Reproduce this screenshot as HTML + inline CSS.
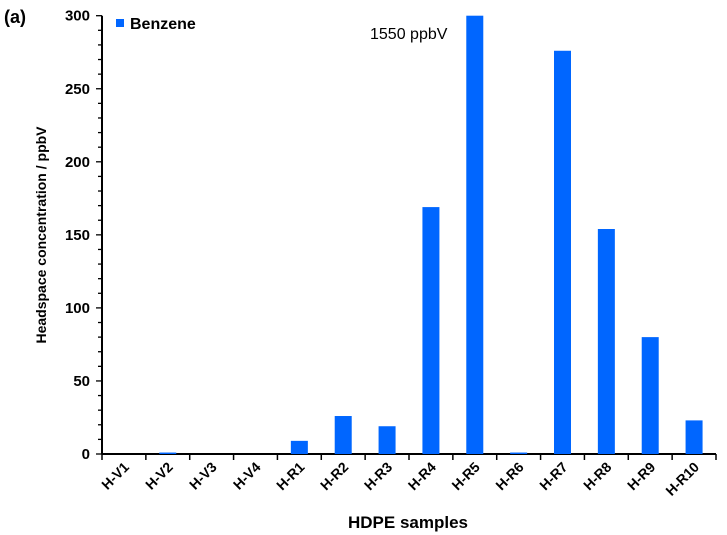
<!DOCTYPE html>
<html><head><meta charset="utf-8"><style>
html,body{margin:0;padding:0;background:#fff;}
svg{display:block;font-family:"Liberation Sans",Arial,sans-serif;}
</style></head><body>
<svg id="chart" width="727" height="535">
<text x="4" y="23" font-size="18" font-weight="bold">(a)</text>
<g id="yaxis"></g>
<g id="xaxis"></g>
<g id="bars"></g>
<text transform="translate(46,235) rotate(-90)" text-anchor="middle" font-size="14" font-weight="bold">Headspace concentration / ppbV</text>
<text x="408" y="528" text-anchor="middle" font-size="17" font-weight="bold">HDPE samples</text>
<g>
<rect x="116" y="19" width="8" height="8" fill="#0066ff"></rect>
<text x="130" y="29" font-size="16" font-weight="bold">Benzene</text>
</g>
<text x="370" y="39" font-size="16">1550 ppbV</text>
</svg>
<script>
const categories = ["H-V1","H-V2","H-V3","H-V4","H-R1","H-R2","H-R3","H-R4","H-R5","H-R6","H-R7","H-R8","H-R9","H-R10"];
const benzene = [0,1,0,0,9,26,19,169,1550,1,276,154,80,23];
const yTicks = [0,50,100,150,200,250,300];
const yMax = 300;
const NS = "http://www.w3.org/2000/svg";
const X0 = 102, X1 = 716, Y0 = 454, Y1 = 15.7;
const step = (X1 - X0) / categories.length;
function yScale(v){ return Y0 - (Math.min(v, yMax) / yMax) * (Y0 - Y1); }
function xCenter(i){ return X0 + step * (i + 0.5); }
function mk(tag, attrs, parent){ const e = document.createElementNS(NS, tag); for (const k in attrs) e.setAttribute(k, attrs[k]); parent.appendChild(e); return e; }
const ya = document.getElementById("yaxis");
const xa = document.getElementById("xaxis");
const bars = document.getElementById("bars");
let l = mk("line", {x1:X0, y1:Y1, x2:X0, y2:Y0, stroke:"#000", "stroke-width":2}, ya);


for (let v = 0; v <= yMax; v += 10) {
  const major = v % 50 === 0;
  const t = mk("line", {x1:X0 - (major ? 6 : 4), x2:X0, y1:yScale(v), y2:yScale(v), stroke:"#000", "stroke-width":1.3}, ya);
  
  
}
yTicks.forEach(v => {
  const t = mk("text", {x:90, y:yScale(v) + 5, "text-anchor":"end", "font-size":15, "font-weight":"bold"}, ya);
  t.textContent = v;
  
  
});
l = mk("line", {x1:X0, y1:Y0, x2:X1, y2:Y0, stroke:"#000", "stroke-width":2}, xa);


for (let i = 0; i <= categories.length; i++) {
  const x = X0 + step * i;
  const t = mk("line", {x1:x, x2:x, y1:Y0, y2:Y0 + 6, stroke:"#000", "stroke-width":1.5}, xa);
  
  
}
categories.forEach((c, i) => {
  const cx = xCenter(i);
  const t = mk("text", {transform:"translate(" + (cx + 6) + "," + (Y0 + 14) + ") rotate(-45)", "text-anchor":"end", "font-size":14, "font-weight":"bold"}, xa);
  t.textContent = c;
  
  
  const v = benzene[i];
  const bw = 17;
  const top = yScale(v);
  const r = mk("rect", {x:cx - bw / 2, y:top, width:bw, height:Math.max(Y0 - top, 0), fill:"#0066ff"}, bars);
  
  
});
</script>
</body></html>
